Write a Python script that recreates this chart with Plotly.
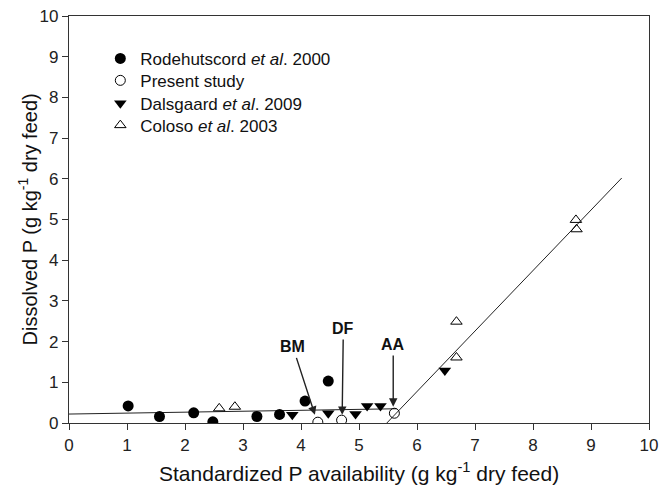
import plotly.graph_objects as go

# Data
rod_x = [1.02, 1.56, 2.15, 2.48, 3.24, 3.63, 4.07, 4.47]
rod_y = [0.42, 0.16, 0.25, 0.03, 0.16, 0.21, 0.54, 1.03]

pres_x = [4.29, 4.70, 5.61]
pres_y = [0.02, 0.07, 0.24]

dals_x = [3.85, 4.47, 4.94, 5.14, 5.37, 6.48]
dals_y = [0.20, 0.24, 0.22, 0.42, 0.42, 1.29]

col_x = [2.59, 2.86, 6.68, 6.68, 8.74, 8.75]
col_y = [0.36, 0.40, 2.49, 1.61, 4.99, 4.76]

fit1_x = [0.0, 5.65]
fit1_y = [0.22, 0.35]
fit2_x = [5.48, 9.53]
fit2_y = [0.0, 6.02]

arrow_labels = ["BM", "DF", "AA"]
arrow_head_x = [4.24, 4.71, 5.59]
arrow_head_y = [0.20, 0.20, 0.40]
label_x = [3.86, 4.73, 5.59]
label_y = [1.87, 2.32, 1.93]

x_title = "Standardized P availability (g kg<sup>-1</sup> dry feed)"
y_title = "Dissolved P (g kg<sup>-1</sup> dry feed)"

FONT = "Arial, Liberation Sans, sans-serif"

fig = go.Figure()

fig.add_trace(go.Scatter(x=fit1_x, y=fit1_y, mode="lines",
                         line=dict(color="#222", width=1), showlegend=False, hoverinfo="skip"))
fig.add_trace(go.Scatter(x=fit2_x, y=fit2_y, mode="lines",
                         line=dict(color="#222", width=1), showlegend=False, hoverinfo="skip"))

fig.add_trace(go.Scatter(x=rod_x, y=rod_y, mode="markers", name="Rodehutscord <i>et al</i>. 2000",
                         legend="legend",
                         marker=dict(symbol="circle", size=11, color="black", line=dict(width=0))))
fig.add_trace(go.Scatter(x=pres_x, y=pres_y, mode="markers", name="Present study",
                         legend="legend2",
                         marker=dict(symbol="circle-open", size=10, color="black", line=dict(width=1))))
fig.add_trace(go.Scatter(x=dals_x, y=dals_y, mode="markers", name="Dalsgaard <i>et al</i>. 2009",
                         legend="legend3",
                         marker=dict(symbol="triangle-down", size=11, color="black", line=dict(width=0))))
fig.add_trace(go.Scatter(x=col_x, y=col_y, mode="markers", name="Coloso <i>et al</i>. 2003",
                         legend="legend4",
                         marker=dict(symbol="triangle-up-open", size=10, color="black", line=dict(width=1))))

for lab, hx, hy, lx, ly in zip(arrow_labels, arrow_head_x, arrow_head_y, label_x, label_y):
    fig.add_annotation(x=hx, y=hy, ax=lx, ay=ly, xref="x", yref="y", axref="x", ayref="y",
                       showarrow=True, arrowhead=2, arrowsize=1.2, arrowwidth=1.4,
                       arrowcolor="#222", startstandoff=1,
                       text="<b>%s</b>" % lab,
                       font=dict(family=FONT, size=16, color="#111"))

# axis titles as paper-anchored text
fig.add_annotation(text=x_title, xref="paper", yref="paper", x=0.5, y=-0.121,
                   xanchor="center", yanchor="middle", showarrow=False,
                   font=dict(family=FONT, size=21, color="#111"))
fig.add_annotation(text=y_title, xref="paper", yref="paper", x=-0.0707, y=0.5,
                   xanchor="center", yanchor="middle", showarrow=False, textangle=-90,
                   font=dict(family=FONT, size=20, color="#111"))

axis_common = dict(showline=True, linecolor="#333", linewidth=1.2, mirror=True,
                   ticks="outside", ticklen=6, tickcolor="#333", tickwidth=1,
                   showgrid=False, zeroline=False, automargin=False,
                   tickfont=dict(family=FONT, size=17, color="#222"))

fig.update_xaxes(range=[0, 10], dtick=1, tick0=0, **axis_common)
fig.update_yaxes(range=[0, 10], dtick=1, tick0=0, **axis_common)

leg_common = dict(x=0.054, xanchor="left", yanchor="top", bgcolor="rgba(0,0,0,0)",
                  font=dict(family=FONT, size=17, color="#111"), itemwidth=30)

fig.update_layout(
    width=661, height=485,
    margin=dict(l=69, r=12, t=16, b=62, autoexpand=False),
    paper_bgcolor="white", plot_bgcolor="white",
    font=dict(family=FONT, color="#111"),
    legend=dict(y=0.939, **leg_common),
    legend2=dict(y=0.885, **leg_common),
    legend3=dict(y=0.829, **leg_common),
    legend4=dict(y=0.775, **leg_common),
)

fig.write_html("out.html", config={"displayModeBar": False},
               post_script="document.body.style.margin='0';")
